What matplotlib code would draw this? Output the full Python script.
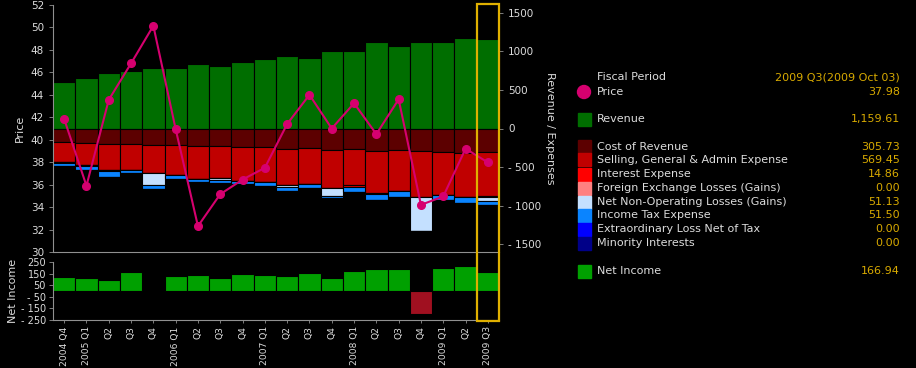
import numpy as np
import matplotlib
matplotlib.use("Agg")
from matplotlib import pyplot as plt
from matplotlib import transforms
from matplotlib.patches import Rectangle, Circle

periods = ["2004 Q4", "2005 Q1", "Q2", "Q3", "Q4", "2006 Q1", "Q2", "Q3", "Q4", "2007 Q1",
           "Q2", "Q3", "Q4", "2008 Q1", "Q2", "Q3", "Q4", "2009 Q1", "Q2", "2009 Q3"]

price = [41.85, 35.9, 43.55, 46.8, 50.15, 40.95, 32.3, 35.15, 36.45, 37.5,
         41.4, 44.0, 41.0, 43.25, 40.5, 43.6, 34.2, 34.95, 39.2, 37.98]

revenue = [606, 657, 718, 743, 782, 782, 834, 816, 859, 894,
           940, 915, 1006, 1006, 1126, 1074, 1122, 1122, 1173, 1159.61]
cost_of_revenue = [180, 193, 206, 206, 211, 211, 228, 228, 241, 245,
                   260, 254, 275, 266, 292, 279, 288, 301, 314, 305.73]
sga = [258, 284, 327, 335, 369, 395, 421, 408, 434, 451,
       470, 459, 490, 466, 544, 537, 593, 558, 576, 569.45]
interest = [0, 0, 0, 0, 0, 0, 0, 0, 0, 0,
            0, 0, 0, 20, 17, 0, 0, 0, 0, 14.86]
fx_losses = [0] * 20
non_operating = [13, 10, 13, -8, 146, 0, 0, 26, 0, 0,
                 26, 0, 107, 0, 0, 0, 443, 0, 0, 51.13]
income_tax = [39, 50, 77, 39, 56, 47, 47, 47, 39, 52,
              58, 60, 34, 69, 77, 77, 0, 73, 77, 51.50]
extraordinary = [0] * 20
minority = [0] * 20
net_income = [124, 115, 97, 165, 5, 132, 138, 112, 150, 141,
              129, 156, 115, 174, 191, 188, -197, 197, 218, 166.94]

legend_rows = [
    ("Cost of Revenue", "#5c0000", "305.73"),
    ("Selling, General & Admin Expense", "#c00000", "569.45"),
    ("Interest Expense", "#ff0000", "14.86"),
    ("Foreign Exchange Losses (Gains)", "#ff8080", "0.00"),
    ("Net Non-Operating Losses (Gains)", "#c4e0ff", "51.13"),
    ("Income Tax Expense", "#0a84ff", "51.50"),
    ("Extraordinary Loss Net of Tax", "#0000ff", "0.00"),
    ("Minority Interests", "#000088", "0.00"),
]

bg = "black"
grid_col = "#909090"
txt_col = "#dcdcdc"
gold = "#d8aa00"
W, H = 916, 368

fig = plt.figure(figsize=(W / 100, H / 100), dpi=100, facecolor=bg)

def box(l, t, r, b):
    return [l / W, 1 - b / H, (r - l) / W, (b - t) / H]

ax = fig.add_axes(box(53, 5, 499, 252), facecolor=bg)
ax_low = fig.add_axes(box(53, 262, 499, 320), facecolor=bg)

x = np.arange(len(periods))
ax.bar(x, revenue, width=1.0, color="#006e00", edgecolor="black", linewidth=0.8)

# non-operating gains stacked above revenue
gains = np.array([-v if v < 0 else 0 for v in non_operating])
ax.bar(x, gains, bottom=revenue, width=1.0, color="#c4e0ff", edgecolor="black", linewidth=0.3)

bottom = np.zeros(len(x))
series = [cost_of_revenue, sga, interest, fx_losses,
          [v if v > 0 else 0 for v in non_operating], income_tax, extraordinary, minority]
for vals, (_, col, _) in zip(series, legend_rows):
    vals = np.array(vals, dtype=float)
    ax.bar(x, -vals, bottom=bottom, width=1.0, color=col, edgecolor="black", linewidth=0.8)
    bottom = bottom - vals

ax.set_xlim(-0.5, len(x) - 0.5)
ax.set_ylim(-1600, 1600)
ax.set_xticks([])

axp = ax.twinx()
axp.yaxis.tick_left()
axp.yaxis.set_label_position("left")
axp.patch.set_visible(False)
axp.plot(x, price, color="#d6006f", lw=1.5, marker="o", ms=5.5)
axp.set_ylim(30, 52)
axp.set_yticks(np.arange(30, 53, 2))
axp.set_ylabel("Price", color=txt_col, fontsize=8, labelpad=4)

# twinx moves the bar axis ticks to the left, put them back on the right
ax.yaxis.tick_right()
ax.yaxis.set_label_position("right")
ax.set_yticks([-1500, -1000, -500, 0, 500, 1000, 1500])
ax.set_yticklabels(["- 1500", "- 1000", "- 500", "0", "500", "1000", "1500"])
ax.set_ylabel("Revenue / Expenses", color=txt_col, fontsize=8, rotation=-90, labelpad=10)

for a in (ax, axp, ax_low):
    for s in a.spines.values():
        s.set_visible(False)
    a.tick_params(colors=txt_col, labelsize=7.5, length=3, width=0.6, color=grid_col)
axp.spines["left"].set_visible(True)
axp.spines["left"].set_color(grid_col)
axp.spines["bottom"].set_visible(True)
axp.spines["bottom"].set_color(grid_col)

ni_cols = ["#00a000" if v >= 0 else "#a01020" for v in net_income]
ax_low.bar(x, net_income, width=1.0, color=ni_cols, edgecolor="black", linewidth=0.8)
ax_low.set_xlim(-0.5, len(x) - 0.5)
ax_low.set_ylim(-250, 250)
ax_low.set_yticks([-250, -150, -50, 50, 150, 250])
ax_low.set_yticklabels(["- 250", "- 150", "- 50", "50", "150", "250"])
ax_low.set_xticks(x)
ax_low.set_xticklabels(periods, rotation=90)
ax_low.tick_params(axis="x", labelsize=6.6, length=2.5, pad=2)
ax_low.tick_params(axis="y", labelsize=7, pad=2)
ax_low.spines["left"].set_visible(True)
ax_low.spines["left"].set_color(grid_col)
ax_low.spines["bottom"].set_visible(True)
ax_low.spines["bottom"].set_color(grid_col)
ax_low.set_ylabel("Net Income", color=txt_col, fontsize=8, labelpad=2)

# highlight box around the selected period
tr = transforms.blended_transform_factory(ax.transData, fig.transFigure)
fig.patches.append(Rectangle((len(x) - 1.5, 1 - 321 / H), 1.0, 317 / H, transform=tr,
                             fill=False, edgecolor="#e0b000", lw=1.6, figure=fig))

# legend panel
def fy(py):
    return 1 - py / H

tx, vx, mx = 597 / W, 900 / W, 584 / W
fig.text(tx, fy(77), "Fiscal Period", color=txt_col, fontsize=8, va="center")
fig.text(vx, fy(77), "2009 Q3(2009 Oct 03)", color=gold, fontsize=8, va="center", ha="right")
fig.patches.append(Circle((mx * W, H - 92), 6.5, transform=None, color="#d6006f", figure=fig))
fig.text(tx, fy(92), "Price", color=txt_col, fontsize=8, va="center")
fig.text(vx, fy(92), "37.98", color=gold, fontsize=8, va="center", ha="right")

def sq(py, col, label, val):
    fig.patches.append(Rectangle((mx - 6.5 / W, fy(py) - 6.5 / H), 13 / W, 13 / H,
                                 transform=fig.transFigure, color=col, figure=fig))
    fig.text(tx, fy(py), label, color=txt_col, fontsize=8, va="center")
    fig.text(vx, fy(py), val, color=gold, fontsize=8, va="center", ha="right")

sq(119, "#006e00", "Revenue", "1,159.61")
ys = [147, 160, 174, 188, 202, 215, 229, 243]
for py, (label, col, val) in zip(ys, legend_rows):
    sq(py, col, label, val)
sq(271, "#00a000", "Net Income", "166.94")

fig.savefig("out.png", dpi=100, facecolor=bg)
